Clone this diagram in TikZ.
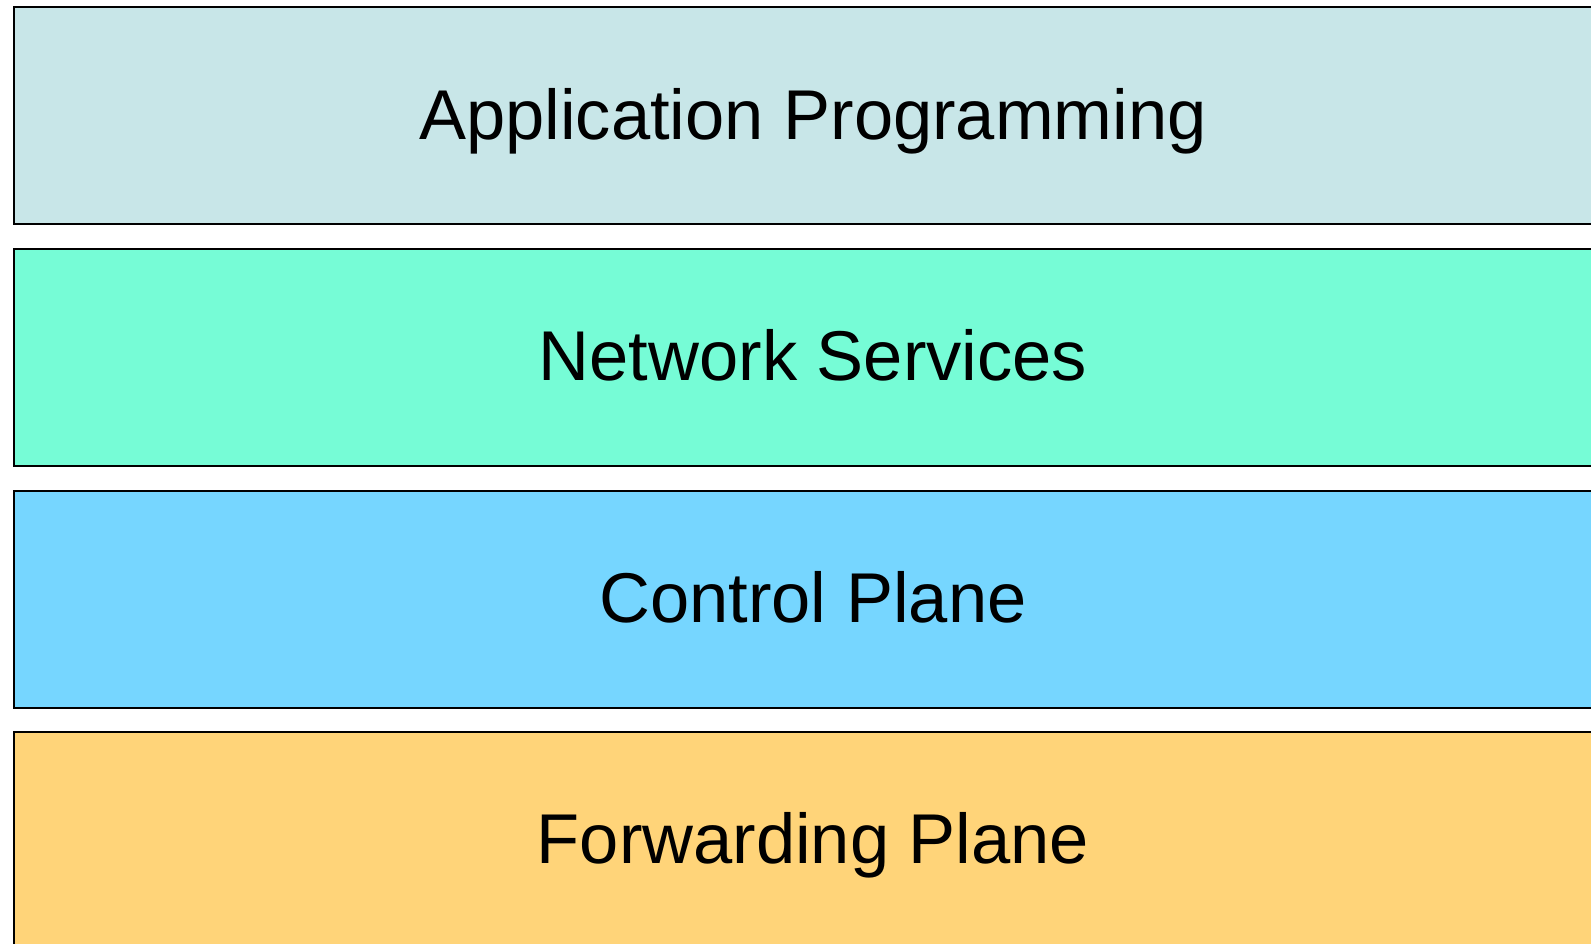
\documentclass[tikz,border=0pt]{standalone}
\usepackage{fontspec}
\setmainfont{Liberation Sans}
\definecolor{appcol}{HTML}{C8E6E8}
\definecolor{svccol}{HTML}{76FCD6}
\definecolor{ctlcol}{HTML}{76D6FF}
\definecolor{fwdcol}{HTML}{FFD479}
\tikzset{
  layer/.style={draw=black, line width=2pt, rectangle, anchor=north west,
    minimum width=1598pt, minimum height=217pt, inner sep=0pt,
    text height=46.5pt, text depth=0pt,
    font=\fontsize{70.5pt}{76pt}\selectfont, text=black}
}
\begin{document}
\begin{tikzpicture}[x=1pt,y=1pt]
  \useasboundingbox (0,0) rectangle (1591,-944);
  \clip (0,0) rectangle (1591,-944);
  \node[layer, fill=appcol] (app) at (13,-6.5)   {Application Programming};
  \node[layer, fill=svccol] (svc) at (13,-248)   {Network Services};
  \node[layer, fill=ctlcol] (ctl) at (13,-489.5) {Control Plane};
  \node[layer, fill=fwdcol] (fwd) at (13,-731)   {Forwarding Plane};
\end{tikzpicture}
\end{document}
